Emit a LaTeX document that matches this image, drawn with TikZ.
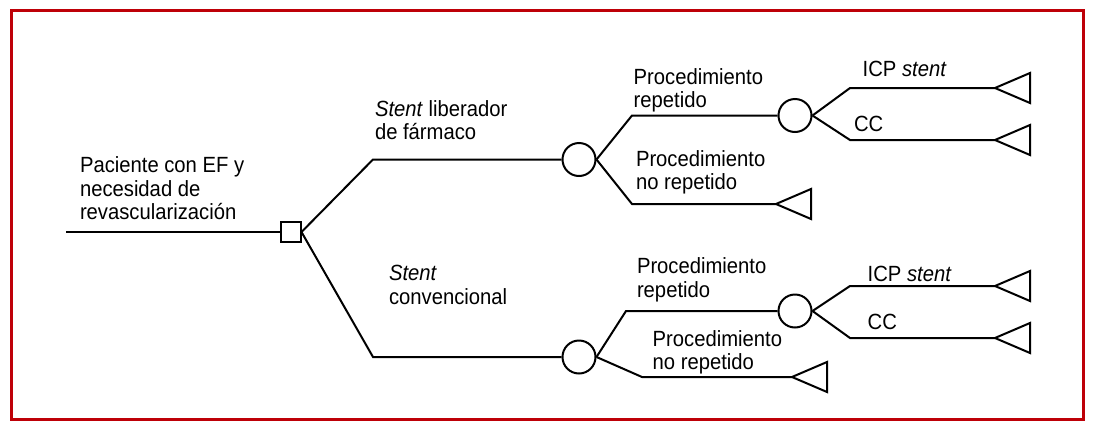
\documentclass[tikz,border=0pt]{standalone}
\usepackage{fontspec}
\setmainfont{Liberation Sans}[FakeStretch=0.92]
\definecolor{framered}{RGB}{190,0,8}
\begin{document}
\begin{tikzpicture}[x=1pt,y=-1pt,
  line width=2pt,
  lbl/.style={anchor=north west, inner sep=0pt, align=left, font=\fontsize{22}{23.5}\selectfont},
  chance/.style={circle, draw, line width=2pt, minimum size=33pt, inner sep=0pt},
  decision/.style={rectangle, draw, line width=2pt, minimum size=20pt, inner sep=0pt},
  term/.style={line width=2pt, line join=miter}]
\useasboundingbox (0,0) rectangle (1093,429);
\draw[framered, line width=3pt] (11.5,10.5) rectangle (1083.5,419.5);

% root
\coordinate (start) at (66,232);
\node[decision] (sq) at (290.5,232) {};
\draw (start) -- (sq.west);

% upper branch
\coordinate (a1) at (373,159.5);
\node[chance] (c1) at (579,159.5) {};
\draw (sq.east) -- (a1) -- (c1.west);
\coordinate (b1) at (632,115.5);
\node[chance] (c2) at (795,115.5) {};
\draw (c1.east) -- (b1) -- (c2.west);
\coordinate (d1) at (850,88);  \coordinate (t1) at (995,88);
\coordinate (d2) at (850,140); \coordinate (t2) at (995,140);
\draw (c2.east) -- (d1) -- (t1);
\draw (c2.east) -- (d2) -- (t2);
\coordinate (b2) at (632,204); \coordinate (t3) at (776,204);
\draw (c1.east) -- (b2) -- (t3);

% lower branch
\coordinate (a2) at (373,357);
\node[chance] (c3) at (579,357) {};
\draw (sq.east) -- (a2) -- (c3.west);
\coordinate (b3) at (626,311);
\node[chance] (c4) at (795,311) {};
\draw (c3.east) -- (b3) -- (c4.west);
\coordinate (d3) at (850,286); \coordinate (t4) at (995,286);
\coordinate (d4) at (850,338); \coordinate (t5) at (995,338);
\draw (c4.east) -- (d3) -- (t4);
\draw (c4.east) -- (d4) -- (t5);
\coordinate (b4) at (642,377); \coordinate (t6) at (792,377);
\draw (c3.east) -- (b4) -- (t6);

% terminal triangles
\foreach \t in {t1,t2,t3,t4,t5,t6}
  \draw[term] (\t) -- ++(35,-15) -- ++(0,30) -- cycle;

% labels
\node[lbl] (root) at (79,156) {Paciente con EF y\\necesidad de\\revascularización};
\node[lbl] (des) at (374,99.2) {\textit{Stent} liberador\\de fármaco};
\node[lbl] (prA) at (632.7,67.5) {Procedimiento\\repetido};
\node[lbl] (pnA) at (635,149.2) {Procedimiento\\no repetido};
\node[lbl] (icpA) at (861.7,60.2) {ICP \textit{stent}};
\node[lbl] (ccA) at (853,115) {CC};
\node[lbl] (conv) at (388,264.2) {\textit{Stent}\\convencional};
\node[lbl] (prB) at (636,257) {Procedimiento\\repetido};
\node[lbl] (pnB) at (651.7,329.2) {Procedimiento\\no repetido};
\node[lbl] (icpB) at (866.7,265) {ICP \textit{stent}};
\node[lbl] (ccB) at (866.7,313.2) {CC};
\end{tikzpicture}
\end{document}
